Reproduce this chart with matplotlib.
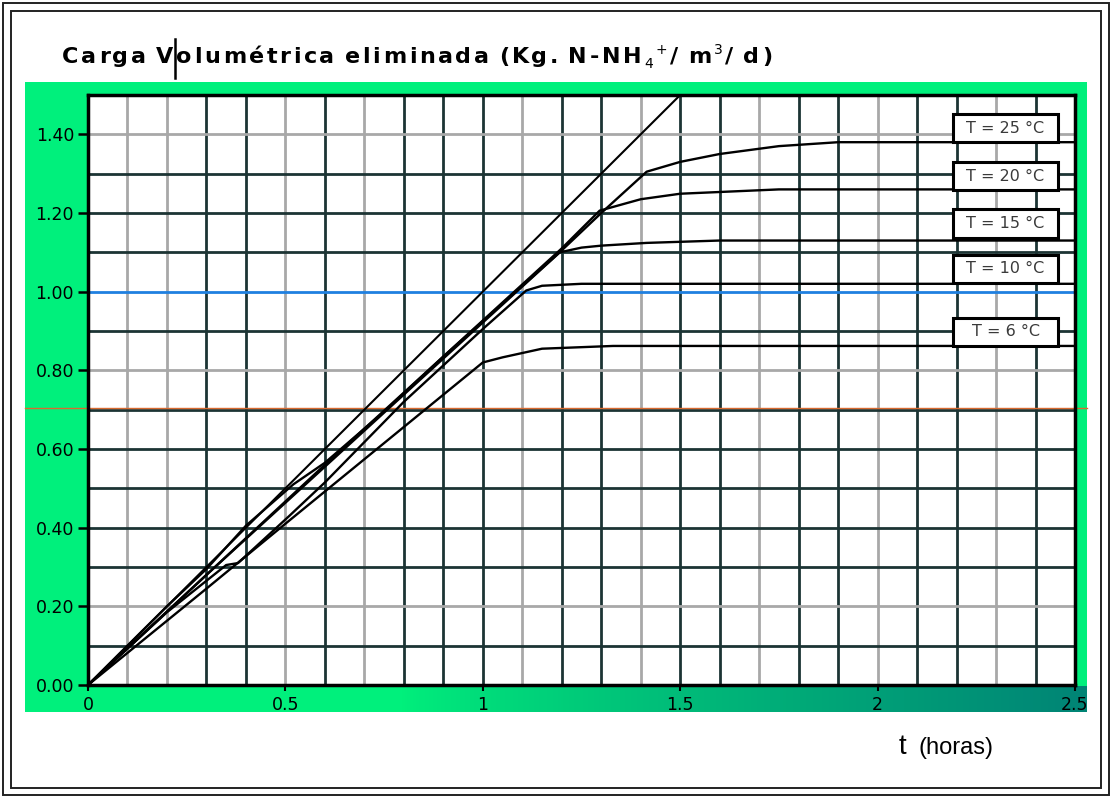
#!/usr/bin/env python3
"""
Carga volumétrica eliminada frente al tiempo, para varias temperaturas
"""
import numpy as np
import matplotlib.pyplot as plt
from matplotlib.patches import Rectangle
from matplotlib.lines import Line2D

plt.rcParams['font.family'] = ['DejaVu Sans']

# ---- datos ----
# recta 1:1
t_ref = [0.0, 1.5]
c_ref = [0.0, 1.5]

t_25 = [0.0, 0.2, 0.3, 0.4, 0.52, 0.6, 0.75, 0.9, 1.2, 1.3, 1.415, 1.5, 1.6, 1.75, 1.9, 2.5]
c_25 = [0.0, 0.2, 0.295, 0.405, 0.51, 0.565, 0.695, 0.835, 1.105, 1.20, 1.305, 1.33, 1.35, 1.37, 1.38, 1.38]

t_20 = [0.0, 0.3, 0.6, 0.9, 1.2, 1.296, 1.4, 1.5, 1.75, 2.5]
c_20 = [0.0, 0.28, 0.56, 0.835, 1.11, 1.206, 1.235, 1.249, 1.26, 1.26]

t_15 = [0.0, 0.3, 0.6, 0.9, 1.195, 1.25, 1.3, 1.415, 1.6, 2.5]
c_15 = [0.0, 0.28, 0.555, 0.83, 1.10, 1.112, 1.117, 1.124, 1.13, 1.13]

t_10 = [0.0, 0.2, 0.35, 0.38, 0.51, 0.6, 0.8, 1.0, 1.11, 1.15, 1.25, 2.5]
c_10 = [0.0, 0.185, 0.305, 0.31, 0.43, 0.515, 0.72, 0.905, 1.003, 1.015, 1.02, 1.02]

t_6 = [0.0, 0.3, 0.5, 0.75, 1.0, 1.05, 1.15, 1.33, 2.5]
c_6 = [0.0, 0.245, 0.41, 0.615, 0.82, 0.833, 0.855, 0.862, 0.862]

etiquetas = ['T = 25 °C', 'T = 20 °C', 'T = 15 °C', 'T = 10 °C', 'T = 6 °C']
etiqueta_y = [1.416, 1.294, 1.173, 1.058, 0.898]

y_ticks = [0.0, 0.2, 0.4, 0.6, 0.8, 1.0, 1.2, 1.4]
x_ticks = [0, 0.5, 1, 1.5, 2, 2.5]
x_ticklabels = ['0', '0.5', '1', '1.5', '2', '2.5']

# título: (texto, tamaño, desplazamiento vertical en px, peso)
titulo = [('Carga Volumétrica eliminada (Kg. N-NH', 16, 0, 'bold'),
          ('4', 10, 5, 'normal'), ('+', 10, -9, 'normal'),
          ('/ m', 16, 0, 'bold'), ('3', 10, -9, 'normal'), ('/ d)', 16, 0, 'bold')]

W, H = 1113, 798
VERDE = '#00f07c'
GRIS = '#a8a8a8'
OSCURO = '#1c3434'


def fx(px):
    return px / W


def fy(py):
    return 1 - py / H


fig = plt.figure(figsize=(W / 100, H / 100), dpi=100)
renderer = fig.canvas.get_renderer()

# marco doble
for x0, y0, x1, y1 in [(3, 3, 1109, 795), (11, 11, 1101, 788)]:
    fig.patches.append(Rectangle((fx(x0), fy(y1)), (x1 - x0) / W, (y1 - y0) / H,
                                 transform=fig.transFigure, fill=False,
                                 edgecolor='#222222', lw=1.4, zorder=-5))

# fondo verde
fig.patches.append(Rectangle((fx(25), fy(712)), (1087 - 25) / W, (712 - 82) / H,
                             transform=fig.transFigure, facecolor=VERDE,
                             edgecolor='none', zorder=-5))

# franja inferior azulada (degradado)
ax_g = fig.add_axes([fx(400), fy(712), (1087 - 400) / W, (712 - 686) / H])
ax_g.set_zorder(-1)
grad = np.zeros((1, 256, 4))
grad[..., 1] = 0.48
grad[..., 2] = 0.46
grad[..., 3] = np.linspace(0, 0.9, 256) ** 0.8
ax_g.imshow(grad, aspect='auto')
ax_g.axis('off')

# ejes principales
ax = fig.add_axes([fx(88), fy(685), (1075 - 88) / W, (685 - 95) / H])
ax.set_zorder(2)
ax.set_facecolor('white')
ax.set_xlim(0, 2.5)
ax.set_ylim(0, 1.5)

# rejilla
grises_v = {1, 2, 5, 7, 11, 14, 17, 20, 23}
for i in range(1, 25):
    c = GRIS if i in grises_v else OSCURO
    ax.axvline(i * 0.1, color=c, lw=2.0, zorder=1)
grises_h = {2, 8, 14}
for j in range(1, 15):
    c = GRIS if j in grises_h else OSCURO
    if j == 10:
        c = '#1f80e0'
    ax.axhline(j * 0.1, color=c, lw=2.0, zorder=1)
ax.axhline(0.705, xmin=-0.064, xmax=1.012, color='#d86a30', lw=1.0,
           zorder=2, clip_on=False)

# curvas
ax.plot(t_ref, c_ref, color='black', lw=1.5, zorder=4)
for t, c in [(t_25, c_25), (t_20, c_20), (t_15, c_15), (t_10, c_10), (t_6, c_6)]:
    ax.plot(t, c, color='black', lw=1.7, zorder=4)

# cajas de temperatura
for txt, yc in zip(etiquetas, etiqueta_y):
    ax.add_patch(Rectangle((2.19, yc - 0.036), 0.268, 0.072, facecolor='white',
                           edgecolor='black', lw=2.2, zorder=6))
    ax.text(2.19 + 0.134, yc, txt, ha='center', va='center', fontsize=11.5,
            color='#3a3a3a', zorder=7)

for s in ax.spines.values():
    s.set_linewidth(2.5)
    s.set_color('black')
    s.set_zorder(5)

ax.set_yticks(y_ticks)
ax.set_yticklabels([f'{v:.2f}' for v in y_ticks])
ax.set_xticks(x_ticks)
ax.set_xticklabels(x_ticklabels)
ax.tick_params(axis='y', direction='out', length=7, width=1.8, pad=3, labelsize=12.5)
ax.tick_params(axis='x', direction='out', length=4, width=1.5, pad=4, labelsize=12.5)

# título con letras espaciadas
x_ini, x_fin, base = 62, 772, 63
letras = []
for txt, size, dy, peso in titulo:
    for ch in txt:
        if ch == ' ':
            letras.append((ch, size, dy, None, 0.3 * size))
            continue
        t = fig.text(0, 0, ch, fontsize=size, fontweight=peso, va='baseline')
        w = t.get_window_extent(renderer).width
        letras.append((ch, size, dy, t, w))
total = sum(l[4] for l in letras)
paso = (x_fin - x_ini - total) / (len(letras) - 1)
x = x_ini
barra_x = None
for ch, size, dy, t, w in letras:
    if t is not None:
        t.set_position((fx(x), fy(base + dy)))
    if ch == 'V' and barra_x is None:
        barra_x = x + w + paso / 2
    x += w + paso
fig.add_artist(Line2D([fx(barra_x), fx(barra_x)], [fy(78), fy(39)], color='black', lw=1.8))

# eje x
fig.text(fx(899), fy(754), 't', fontsize=20, va='baseline', family=['Liberation Sans'])
fig.text(fx(918), fy(754), '(horas)', fontsize=17, va='baseline', family=['Liberation Sans'])

plt.savefig('out.png', dpi=100)
plt.close()
